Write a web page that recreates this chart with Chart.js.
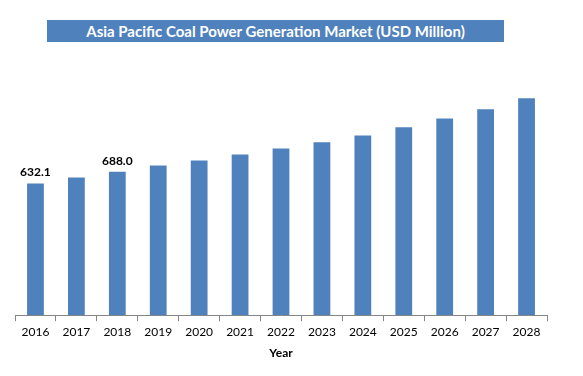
<!DOCTYPE html>
<html>
<head>
<meta charset="utf-8">
<script src="https://cdn.jsdelivr.net/npm/chart.js@4"></script>
<style>
  body { margin: 0; background: #fff; }
  #wrap { position: relative; width: 583px; height: 376px; }
  #title {
    position: absolute; left: 47px; top: 20px; width: 457px; height: 22px;
    background: #4f81bd; color: #fff; font: bold 15px Lato, sans-serif;
    text-align: center; line-height: 22px;
  }
</style>
</head>
<body>
<div id="wrap">
  <canvas id="coalChart" width="583" height="376"></canvas>
  <div id="title">Asia Pacific Coal Power Generation Market (USD Million)</div>
</div>
<script>
const years = ["2016", "2017", "2018", "2019", "2020", "2021", "2022", "2023", "2024", "2025", "2026", "2027", "2028"];
const marketValues = [632.1, 660, 688.0, 718, 742, 771, 800, 829, 862, 901, 944, 988, 1041];
const shownLabels = ["632.1", null, "688.0", null, null, null, null, null, null, null, null, null, null];

const valueLabels = {
  id: "valueLabels",
  afterDatasetsDraw(chart) {
    const ctx = chart.ctx;
    const bars = chart.getDatasetMeta(0).data;
    ctx.save();
    ctx.font = "bold 12px Lato, sans-serif";
    ctx.fillStyle = "#000";
    ctx.textAlign = "center";
    ctx.textBaseline = "bottom";
    bars.forEach(function(bar, i) {
      if (shownLabels[i]) {
        ctx.fillText(shownLabels[i], bar.x, bar.y - 5);
      }
    });
    ctx.restore();
  }
};

new Chart(document.getElementById("coalChart"), {
  type: "bar",
  data: {
    labels: years,
    datasets: [
      {
        data: marketValues,
        backgroundColor: "#4f81bd",
        barPercentage: 0.41,
        categoryPercentage: 1
      }
    ]
  },
  options: {
    responsive: false,
    animation: false,
    layout: {
      padding: { left: 15, right: 36, top: 65, bottom: 16 }
    },
    plugins: {
      legend: { display: false },
      tooltip: { enabled: false }
    },
    scales: {
      y: {
        display: false,
        min: 0,
        max: 1200
      },
      x: {
        grid: {
          drawOnChartArea: false,
          color: "#868686",
          tickLength: 6
        },
        border: { color: "#868686" },
        ticks: {
          color: "#000",
          padding: 4,
          font: { family: "Lato", size: 12 }
        },
        title: {
          display: true,
          text: "Year",
          color: "#000",
          font: { family: "Lato", size: 12, weight: "bold" },
          padding: { top: 2, bottom: 0 }
        }
      }
    }
  },
  plugins: [valueLabels]
});
</script>
</body>
</html>
